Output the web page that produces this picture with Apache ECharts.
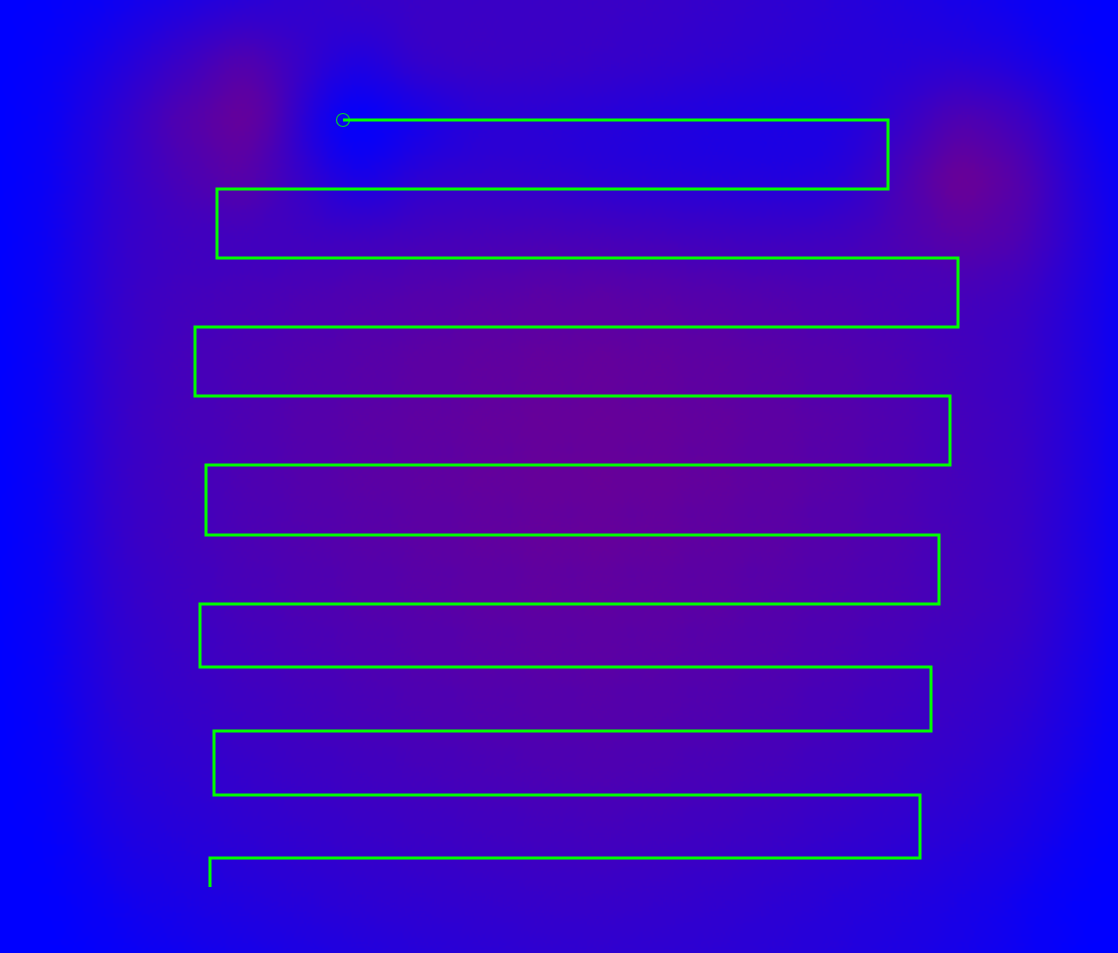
<!DOCTYPE html>
<html><head><meta charset="utf-8">
<script src="https://cdn.jsdelivr.net/npm/echarts@6/dist/echarts.min.js"></script>
<style>html,body{margin:0;padding:0;background:#0000ff;overflow:hidden}#main{width:1118px;height:953px;}</style>
</head><body><div id="main"></div>
<script>
const W = 1118, H = 953;
// survey path vertices (x right, y down)
const pathX = [343, 888, 888, 217, 217, 958, 958, 195, 195, 950, 950, 206, 206, 939, 939, 200, 200, 931, 931, 214, 214, 920, 920, 210, 210];
const pathY = [120, 120, 189, 189, 258, 258, 327, 327, 396, 396, 465, 465, 535, 535, 604, 604, 667, 667, 731, 731, 795, 795, 858, 858, 887];
// heat field samples
const gridX = [0,60,120,180,240,300,360,420,480,540,600,660,720,780,840,900,960,1020,1080];
const gridY = [-60,0,60,120,180,240,300,360,420,480,540,600,660,720,780,840,900,960,1020];
const heatRows = [
 [0,3,9,18,26,36,46,50,50,50,52,50,46,40,33,24,16,9,3],
 [0,4,12,22,32,44,56,56,56,56,56,54,50,44,37,29,20,11,3],
 [0,8,28,55,85,54,22,58,60,58,55,50,45,40,36,34,34,22,5],
 [0,10,45,85,100,3,0,10,36,36,32,28,24,22,24,48,85,65,12],
 [0,12,48,72,95,56,10,45,48,45,38,33,30,28,32,72,120,90,26],
 [0,14,50,60,60,62,65,68,71,73,71,67,63,61,64,76,90,80,32],
 [0,15,52,66,72,77,82,86,90,93,94,91,87,83,78,72,66,60,28],
 [0,15,54,68,75,82,88,93,98,101,102,100,96,90,84,76,66,57,28],
 [0,15,54,68,76,84,91,96,101,105,106,104,100,94,87,78,67,58,28],
 [0,15,54,66,76,84,91,97,101,105,107,105,101,95,88,78,67,59,28],
 [0,14,52,64,74,81,88,93,98,102,103,101,96,91,84,77,67,57,26],
 [0,13,48,60,70,77,84,89,94,98,98,96,92,87,80,75,67,59,26],
 [0,12,44,55,64,71,77,83,88,91,93,90,86,81,74,67,59,51,22],
 [0,10,40,49,58,64,70,76,80,84,86,83,79,74,67,61,52,43,18],
 [0,8,33,42,50,56,61,66,71,74,77,74,71,66,60,53,45,34,13],
 [0,5,25,33,41,47,53,57,61,64,66,63,60,55,48,43,35,25,7],
 [0,3,15,23,30,36,41,45,49,52,53,50,46,41,35,30,23,13,3],
 [0,1,7,13,18,23,29,34,38,42,44,42,40,37,32,26,20,12,2],
 [0,0,4,9,14,19,24,29,33,37,39,37,35,32,28,22,16,9,1]
];
// extra sample on the top-left hot spot [x, y, value]
const extraPoints = [[272, 112, 50]];
const heatMax = 140;
const colorStops = ['#0000ff','#1800e7','#2d00d2','#4100be','#5700a8','#6e0091','#8a0075','#aa0055','#cd0032','#f0000f','#ff0000'];

echarts.registerMap('field', {type:'FeatureCollection', features:[{type:'Feature', properties:{name:'field'},
  geometry:{type:'Polygon', coordinates:[[[0,0],[W,0],[W,H],[0,H],[0,0]]]}}]});
const heatData = [];
gridY.forEach((y, j) => gridX.forEach((x, i) => heatData.push([x, H - y, heatRows[j][i]])));
extraPoints.forEach(p => heatData.push([p[0], H - p[1], p[2]]));
const pathCoords = pathX.map((x, i) => [x, H - pathY[i]]);

const chart = echarts.init(document.getElementById('main'), null, {renderer: 'canvas'});
chart.setOption({
  backgroundColor: '#0000ff',
  animation: false,
  geo: {
    map: 'field', roam: false, silent: true, left: 0, top: 0, right: 0, bottom: 0,
    aspectScale: 1, boundingCoords: [[0, H], [W, 0]],
    itemStyle: {areaColor: '#0000ff', borderWidth: 0, borderColor: '#0000ff'},
    label: {show: false}, emphasis: {disabled: true}, select: {disabled: true}
  },
  visualMap: {show: false, type: 'continuous', min: 0, max: heatMax, seriesIndex: 0, inRange: {color: colorStops}},
  series: [
    {type: 'heatmap', coordinateSystem: 'geo', data: heatData, pointSize: 30, blurSize: 60, minOpacity: 1, maxOpacity: 1, silent: true},
    {type: 'lines', coordinateSystem: 'geo', polyline: true, silent: true, data: [{coords: pathCoords}],
     lineStyle: {color: '#00ff00', width: 3, opacity: 1}},
    {type: 'scatter', coordinateSystem: 'geo', silent: true, data: [pathCoords[0]], symbol: 'circle', symbolSize: 13,
     itemStyle: {color: 'rgba(0,0,0,0)', borderColor: '#00ff00', borderWidth: 1.2}}
  ]
});
</script></body></html>
